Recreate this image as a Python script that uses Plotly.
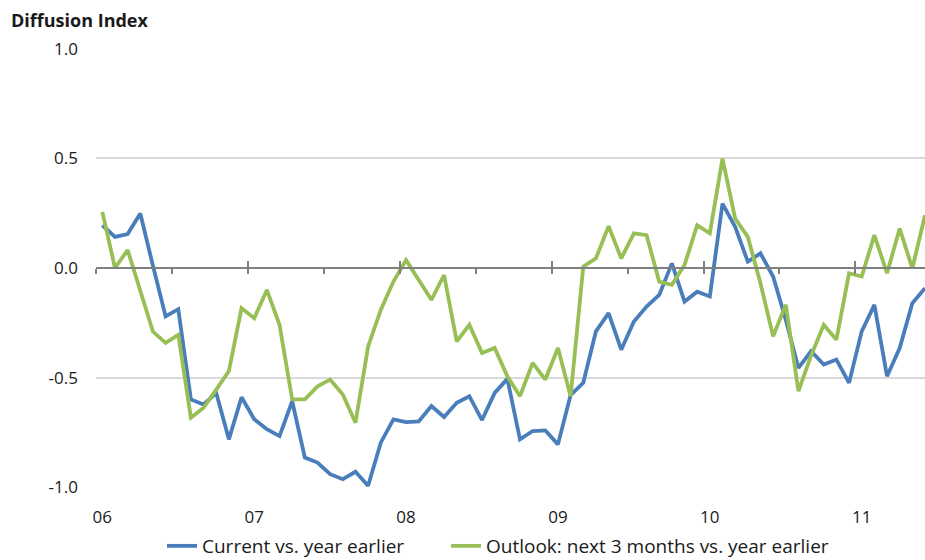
import plotly.graph_objects as go

# ---- data -------------------------------------------------------------
months = [f"{y}-{m:02d}" for y in range(2006, 2012) for m in range(1, 13)][:66]

current = [
    0.195, 0.142, 0.155, 0.249, 0.010, -0.221, -0.188, -0.600, -0.623, -0.570,
    -0.782, -0.590, -0.690, -0.736, -0.767, -0.608, -0.865, -0.888, -0.941, -0.964,
    -0.930, -0.994, -0.797, -0.691, -0.703, -0.700, -0.630, -0.680, -0.615, -0.585,
    -0.694, -0.570, -0.506, -0.782, -0.744, -0.741, -0.805, -0.580, -0.524, -0.289,
    -0.206, -0.373, -0.244, -0.176, -0.123, 0.021, -0.153, -0.108, -0.130, 0.294,
    0.188, 0.029, 0.067, -0.039, -0.236, -0.456, -0.380, -0.441, -0.418, -0.524,
    -0.289, -0.168, -0.494, -0.365, -0.161, -0.092,
]

outlook = [
    0.256, 0.000, 0.082, -0.100, -0.290, -0.342, -0.305, -0.683, -0.638, -0.555,
    -0.470, -0.183, -0.229, -0.100, -0.259, -0.600, -0.600, -0.540, -0.509, -0.577,
    -0.706, -0.358, -0.191, -0.062, 0.036, -0.055, -0.145, -0.032, -0.335, -0.259,
    -0.388, -0.365, -0.494, -0.585, -0.433, -0.509, -0.365, -0.585, 0.006, 0.044,
    0.191, 0.044, 0.158, 0.150, -0.062, -0.077, 0.014, 0.195, 0.158, 0.499,
    0.226, 0.142, -0.070, -0.312, -0.168, -0.562, -0.400, -0.259, -0.327, -0.024,
    -0.039, 0.150, -0.024, 0.180, -0.002, 0.241,
]

year_labels = ["06", "07", "08", "09", "10", "11"]
y_tickvals = [-1.0, -0.5, 0.0, 0.5, 1.0]
y_ticktext = ["-1.0", "-0.5", "0.0", "0.5", "1.0"]

series_names = ["Current vs. year earlier", "Outlook: next 3 months vs. year earlier"]
colors = ["#4a7ebb", "#98bf55"]

# ---- derived positions ----------------------------------------------------
x = list(range(len(months)))
year_tickvals = [months.index(f"20{yy}-01") for yy in year_labels]
year_bounds = [v - 0.5 for v in year_tickvals]
half_bounds = [v - 0.5 for v in range(0, len(months), 6)]

fig = go.Figure()
for name, vals, col, lg in zip(series_names, [current, outlook], colors, ["legend", "legend2"]):
    fig.add_trace(go.Scatter(x=x, y=vals, mode="lines", name=name, legend=lg,
                             line=dict(color=col, width=3.8)))

# helper (empty) traces so the overlay axes get drawn
fig.add_trace(go.Scatter(x=[], y=[], xaxis="x2", showlegend=False, hoverinfo="skip"))
fig.add_trace(go.Scatter(x=[], y=[], xaxis="x3", showlegend=False, hoverinfo="skip"))

font_main = "Open Sans, DejaVu Sans, sans-serif"
xr = [-0.5, 65.0]

legend_common = dict(orientation="h", xref="container", yref="container",
                     xanchor="left", y=1 - 546 / 560, yanchor="middle",
                     font=dict(size=19), bgcolor="rgba(0,0,0,0)")

fig.update_layout(
    width=925, height=560,
    margin=dict(l=96, r=0, t=48, b=72),
    paper_bgcolor="white", plot_bgcolor="white",
    font=dict(family=font_main, color="#1a1a1a", size=17),
    title=dict(text="<b>Diffusion Index</b>", xref="container", yref="container",
               x=11 / 925, xanchor="left", y=1 - 21 / 560, yanchor="middle",
               font=dict(family=font_main, size=18, color="#1a1a1a")),
    xaxis=dict(range=xr, tickvals=year_tickvals, ticktext=year_labels,
               showgrid=False, zeroline=False, showline=False, ticks="",
               ticklabelstandoff=17, tickfont=dict(size=17)),
    xaxis2=dict(range=xr, overlaying="x", anchor="free", position=0.5, side="bottom",
                tickvals=year_bounds, ticks="inside", ticklen=6, tickwidth=1.5,
                tickcolor="#7f7f7f", showline=True, linecolor="#7f7f7f", linewidth=1.5,
                showticklabels=False, showgrid=False, zeroline=False),
    xaxis3=dict(range=xr, overlaying="x", anchor="free", position=0.5, side="bottom",
                tickvals=half_bounds, ticks="outside", ticklen=5, tickwidth=1.5,
                tickcolor="#7f7f7f", showline=False,
                showticklabels=False, showgrid=False, zeroline=False),
    yaxis=dict(range=[-1.004, 1.004], tickvals=y_tickvals, ticktext=y_ticktext,
               showgrid=True, gridcolor="#d9d9d9", gridwidth=1.6,
               zeroline=False, showline=False, ticks="",
               ticklabelstandoff=17, tickfont=dict(size=17)),
    legend=dict(x=162 / 925, **legend_common),
    legend2=dict(x=446 / 925, **legend_common),
    showlegend=True,
)

fig.write_html("out.html")
